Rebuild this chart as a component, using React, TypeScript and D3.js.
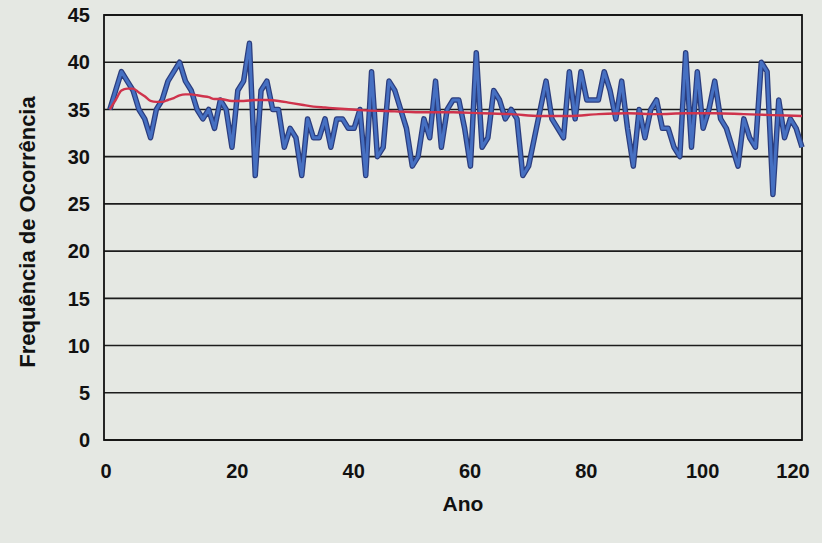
import React from "react";
import * as d3 from "d3";

const years: number[] = Array.from({ length: 120 }, (_, i) => i + 1);

const frequency: number[] = [
  35, 37, 39, 38, 37, 35, 34, 32, 35, 36,
  38, 39, 40, 38, 37, 35, 34, 35, 33, 36,
  35, 31, 37, 38, 42, 28, 37, 38, 35, 35,
  31, 33, 32, 28, 34, 32, 32, 34, 31, 34,
  34, 33, 33, 35, 28, 39, 30, 31, 38, 37,
  35, 33, 29, 30, 34, 32, 38, 31, 35, 36,
  36, 33, 29, 41, 31, 32, 37, 36, 34, 35,
  34, 28, 29, 32, 35, 38, 34, 33, 32, 39,
  34, 39, 36, 36, 36, 39, 37, 34, 38, 33,
  29, 35, 32, 35, 36, 33, 33, 31, 30, 41,
  31, 39, 33, 35, 38, 34, 33, 31, 29, 34,
  32, 31, 40, 39, 26, 36, 32, 34, 33, 31,
];

const meanYears: number[] = [
  1, 2, 3, 4, 5, 6, 7, 8, 9, 10, 11, 12, 13, 14, 15, 16, 17, 18, 19, 20,
  22, 24, 26, 28, 30, 32, 34, 36, 38, 40, 45, 50, 55, 60, 65, 70, 75, 80,
  85, 90, 95, 100, 105, 110, 115, 120,
];
const meanValues: number[] = [
  35.0, 36.0, 37.0, 37.2, 37.2, 36.8, 36.4, 35.9, 35.8, 35.8, 36.0, 36.2,
  36.5, 36.6, 36.6, 36.5, 36.4, 36.3, 36.1, 36.1,
  35.9, 35.9, 36.0, 36.0, 35.9, 35.7, 35.5, 35.3, 35.2, 35.1, 34.9, 34.8,
  34.7, 34.7, 34.6, 34.5, 34.3, 34.3, 34.5, 34.6, 34.5, 34.6, 34.6, 34.5,
  34.4, 34.3,
];

const xTicks: number[] = [0, 20, 40, 60, 80, 100, 120];
const yTicks: number[] = [0, 5, 10, 15, 20, 25, 30, 35, 40, 45];

const W = 822;
const H = 543;
const left = 104;
const right = 802;
const top = 15;
const bottom = 440;

export default function App() {
  const x = d3.scaleLinear().domain([0, 120]).range([left, right]);
  const y = d3.scaleLinear().domain([0, 45]).range([bottom, top]);

  const blueLine = d3
    .line<number>()
    .x((_, i) => x(years[i]))
    .y((d) => y(d))(frequency) as string;

  const redLine = d3
    .line<number>()
    .x((_, i) => x(meanYears[i]))
    .y((d) => y(d))
    .curve(d3.curveMonotoneX)(meanValues) as string;

  const font = "'Liberation Sans', Arial, sans-serif";
  const narrow = "'Liberation Sans Narrow', 'Liberation Sans', Arial, sans-serif";

  const first = xTicks[0];
  const last = xTicks[xTicks.length - 1];
  const labelX = (t: number) =>
    t === first ? x(t) + 2 : t === last ? x(t) - 9 : x(t) + 17;

  return (
    <svg
      width={W}
      height={H}
      style={{ position: "fixed", left: 0, top: 0, display: "block" }}
    >
      <rect x={0} y={0} width={W} height={H} fill="#e5e8e3" />
      {yTicks.map((t) => (
        <line
          key={"g" + t}
          x1={left}
          x2={right}
          y1={y(t)}
          y2={y(t)}
          stroke="#1c1c1c"
          strokeWidth={1.6}
        />
      ))}
      <rect
        x={left}
        y={top}
        width={right - left}
        height={bottom - top}
        fill="none"
        stroke="#111"
        strokeWidth={1.8}
      />
      <path
        d={blueLine}
        fill="none"
        stroke="#2b3d7e"
        strokeWidth={5.5}
        strokeLinejoin="round"
      />
      <path
        d={blueLine}
        fill="none"
        stroke="#4670c2"
        strokeWidth={3}
        strokeLinejoin="round"
      />
      <path d={redLine} fill="none" stroke="#cf334c" strokeWidth={2.4} />
      {yTicks.map((t) => (
        <text
          key={"yt" + t}
          x={90}
          y={y(t)}
          dy="0.36em"
          textAnchor="end"
          fontFamily={font}
          fontWeight="bold"
          fontSize={20}
          fill="#111"
        >
          {t}
        </text>
      ))}
      {xTicks.map((t) => (
        <text
          key={"xt" + t}
          x={labelX(t)}
          y={478}
          textAnchor="middle"
          fontFamily={narrow}
          fontWeight="bold"
          fontSize={20}
          fill="#111"
        >
          {t}
        </text>
      ))}
      <text
        x={463}
        y={511}
        textAnchor="middle"
        fontFamily={narrow}
        fontWeight="bold"
        fontSize={21}
        fill="#111"
      >
        Ano
      </text>
      <text
        transform="translate(35,232) rotate(-90)"
        textAnchor="middle"
        fontFamily={font}
        fontWeight="bold"
        fontSize={22}
        fill="#111"
      >
        Frequência de Ocorrência
      </text>
    </svg>
  );
}
